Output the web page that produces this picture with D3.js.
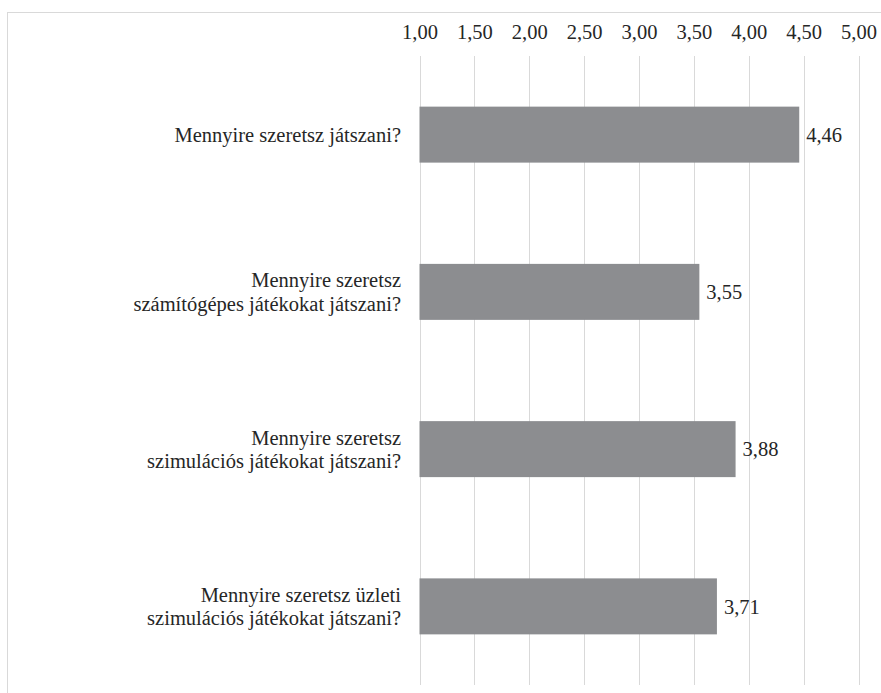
<!DOCTYPE html>
<html><head><meta charset="utf-8">
<script src="https://cdn.jsdelivr.net/npm/d3@7"></script>
</head><body>
<script>
const categories = [
  ["Mennyire szeretsz játszani?"],
  ["Mennyire szeretsz", "számítógépes játékokat játszani?"],
  ["Mennyire szeretsz", "szimulációs játékokat játszani?"],
  ["Mennyire szeretsz üzleti", "szimulációs játékokat játszani?"]
];
const values = [4.46, 3.55, 3.88, 3.71];
const ticks = [1.0, 1.5, 2.0, 2.5, 3.0, 3.5, 4.0, 4.5, 5.0];

const W = 881, H = 693;
d3.select("body").style("margin", "0px");
const font = "'Liberation Serif', 'Times New Roman', Tinos, Times, 'Nimbus Roman', 'Noto Serif', 'DejaVu Serif', serif";
const fs = "20.5px";
const txt = "#262626";
const svg = d3.select("body").append("svg").attr("width", W).attr("height", H)
  .style("display", "block").style("font-family", font);

svg.append("rect").attr("x", 7.5).attr("y", 12.5).attr("width", 890).attr("height", 700)
  .attr("fill", "none").attr("stroke", "#d9d9d9").attr("stroke-width", 1);

const x = d3.scaleLinear().domain([1, 5]).range([419.5, 858.5]);
const y = d3.scaleBand().domain(d3.range(categories.length)).range([56, 685]).paddingInner(0.644).paddingOuter(0.322);

const g = svg.append("g");
g.selectAll("line.grid").data(ticks).join("line").attr("class", "grid")
  .attr("x1", d => Math.round(x(d)) + 0.5).attr("x2", d => Math.round(x(d)) + 0.5)
  .attr("y1", 56).attr("y2", 685).attr("stroke", "#d9d9d9").attr("stroke-width", 1);

const fmt = v => v.toFixed(2).replace(".", ",");
const axis = d3.axisTop(x).tickValues(ticks).tickFormat(fmt).tickSize(0).tickPadding(0);
const ag = svg.append("g").attr("transform", "translate(0,39)").call(axis);
ag.select(".domain").remove();
ag.attr("font-family", null).attr("font-size", null);
ag.selectAll("text").style("font-family", font).style("font-size", fs).attr("fill", txt);

g.selectAll("rect.bar").data(values).join("rect").attr("class", "bar")
  .attr("x", x(1)).attr("y", (d, i) => y(i)).attr("width", d => x(d) - x(1)).attr("height", y.bandwidth())
  .attr("fill", "#8c8d90");

g.selectAll("text.val").data(values).join("text").attr("class", "val")
  .attr("x", d => x(d) + 7).attr("y", (d, i) => y(i) + y.bandwidth() / 2).attr("dy", "0.35em")
  .style("font-family", font).style("font-size", fs).attr("fill", txt).text(fmt);

categories.forEach((lines, i) => {
  const cy = y(i) + y.bandwidth() / 2;
  const lh = 23.5;
  const t = svg.append("text").attr("text-anchor", "end")
    .style("font-family", font).style("font-size", fs).attr("fill", txt);
  lines.forEach((ln, j) => {
    t.append("tspan").attr("x", 401).attr("y", cy + (j - (lines.length - 1) / 2) * lh).attr("dy", "0.35em").text(ln);
  });
});
</script>
</body></html>
